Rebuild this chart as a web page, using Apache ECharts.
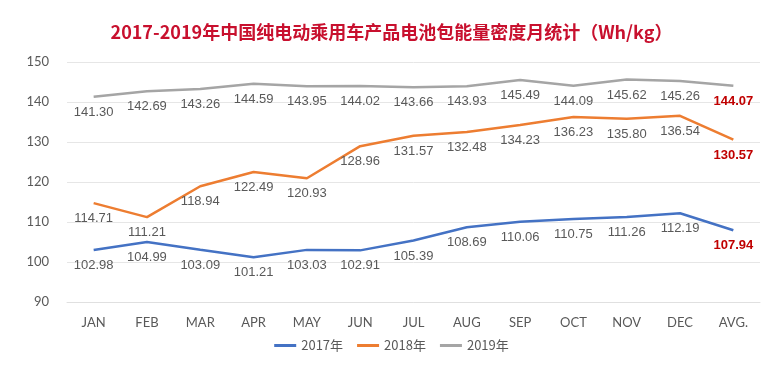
<!DOCTYPE html>
<html><head><meta charset="utf-8">
<script src="https://cdn.jsdelivr.net/npm/echarts@6/dist/echarts.min.js"></script>
<style>html,body{margin:0;padding:0;background:#fff}#c{width:783px;height:392px}</style>
</head><body><div id="c"></div>
<script>
var categories = ['JAN','FEB','MAR','APR','MAY','JUN','JUL','AUG','SEP','OCT','NOV','DEC','AVG.'];
var s2017 = [102.98,104.99,103.09,101.21,103.03,102.91,105.39,108.69,110.06,110.75,111.26,112.19,107.94];
var s2018 = [114.71,111.21,118.94,122.49,120.93,128.96,131.57,132.48,134.23,136.23,135.80,136.54,130.57];
var s2019 = [141.30,142.69,143.26,144.59,143.95,144.02,143.66,143.93,145.49,144.09,145.62,145.26,144.07];
var seriesNames = ['2017年','2018年','2019年'];
var colors = ['#4472c4','#ed7d31','#a5a5a5'];

function mk(name, data, color){
  return {
    name: name, type: 'line', data: data.map(function(v,i){
      var d = {value: v};
      if (i === data.length-1) d.label = {color:'#c00000', fontWeight:'bold'};
      return d;
    }),
    symbol: 'circle', symbolSize: 0, showSymbol: true,
    lineStyle: {color: color, width: 2.5}, itemStyle: {color: color},
    label: {show: true, position: 'bottom', distance: 9, color: '#595959', fontSize: 13,
      fontFamily: 'Liberation Sans, Arial, sans-serif',
      formatter: function(p){ return Number(p.value).toFixed(2); }}
  };
}
var chart = echarts.init(document.getElementById('c'));
chart.setOption({
  animation: false,
  title: {text: '2017-2019年中国纯电动乘用车产品电池包能量密度月统计（Wh/kg）', left: 'center', top: 18,
    textStyle: {color: '#c8102e', fontSize: 18, fontWeight: 'bold', fontFamily: 'Noto Sans CJK SC'}},
  grid: {left: 67, right: 23, top: 62, bottom: 90},
  legend: {data: seriesNames, bottom: 35, left: 'center', icon: 'rect', itemWidth: 22, itemHeight: 3, itemGap: 14,
    textStyle: {color: '#595959', fontSize: 13, fontFamily: 'Noto Sans CJK SC'}},
  xAxis: {type: 'category', data: categories, boundaryGap: true,
    axisLine: {lineStyle: {color: '#e0e0e0'}}, axisTick: {show: false},
    axisLabel: {color: '#595959', fontSize: 13, margin: 14, fontFamily: 'Lato, sans-serif'}},
  yAxis: {type: 'value', min: 90, max: 150, interval: 10,
    axisLine: {show: false}, axisTick: {show: false},
    splitLine: {lineStyle: {color: '#e6e6e6'}},
    axisLabel: {color: '#595959', fontSize: 13, margin: 18, fontFamily: 'Lato, sans-serif'}},
  series: [mk(seriesNames[0], s2017, colors[0]), mk(seriesNames[1], s2018, colors[1]), mk(seriesNames[2], s2019, colors[2])]
});
</script></body></html>
